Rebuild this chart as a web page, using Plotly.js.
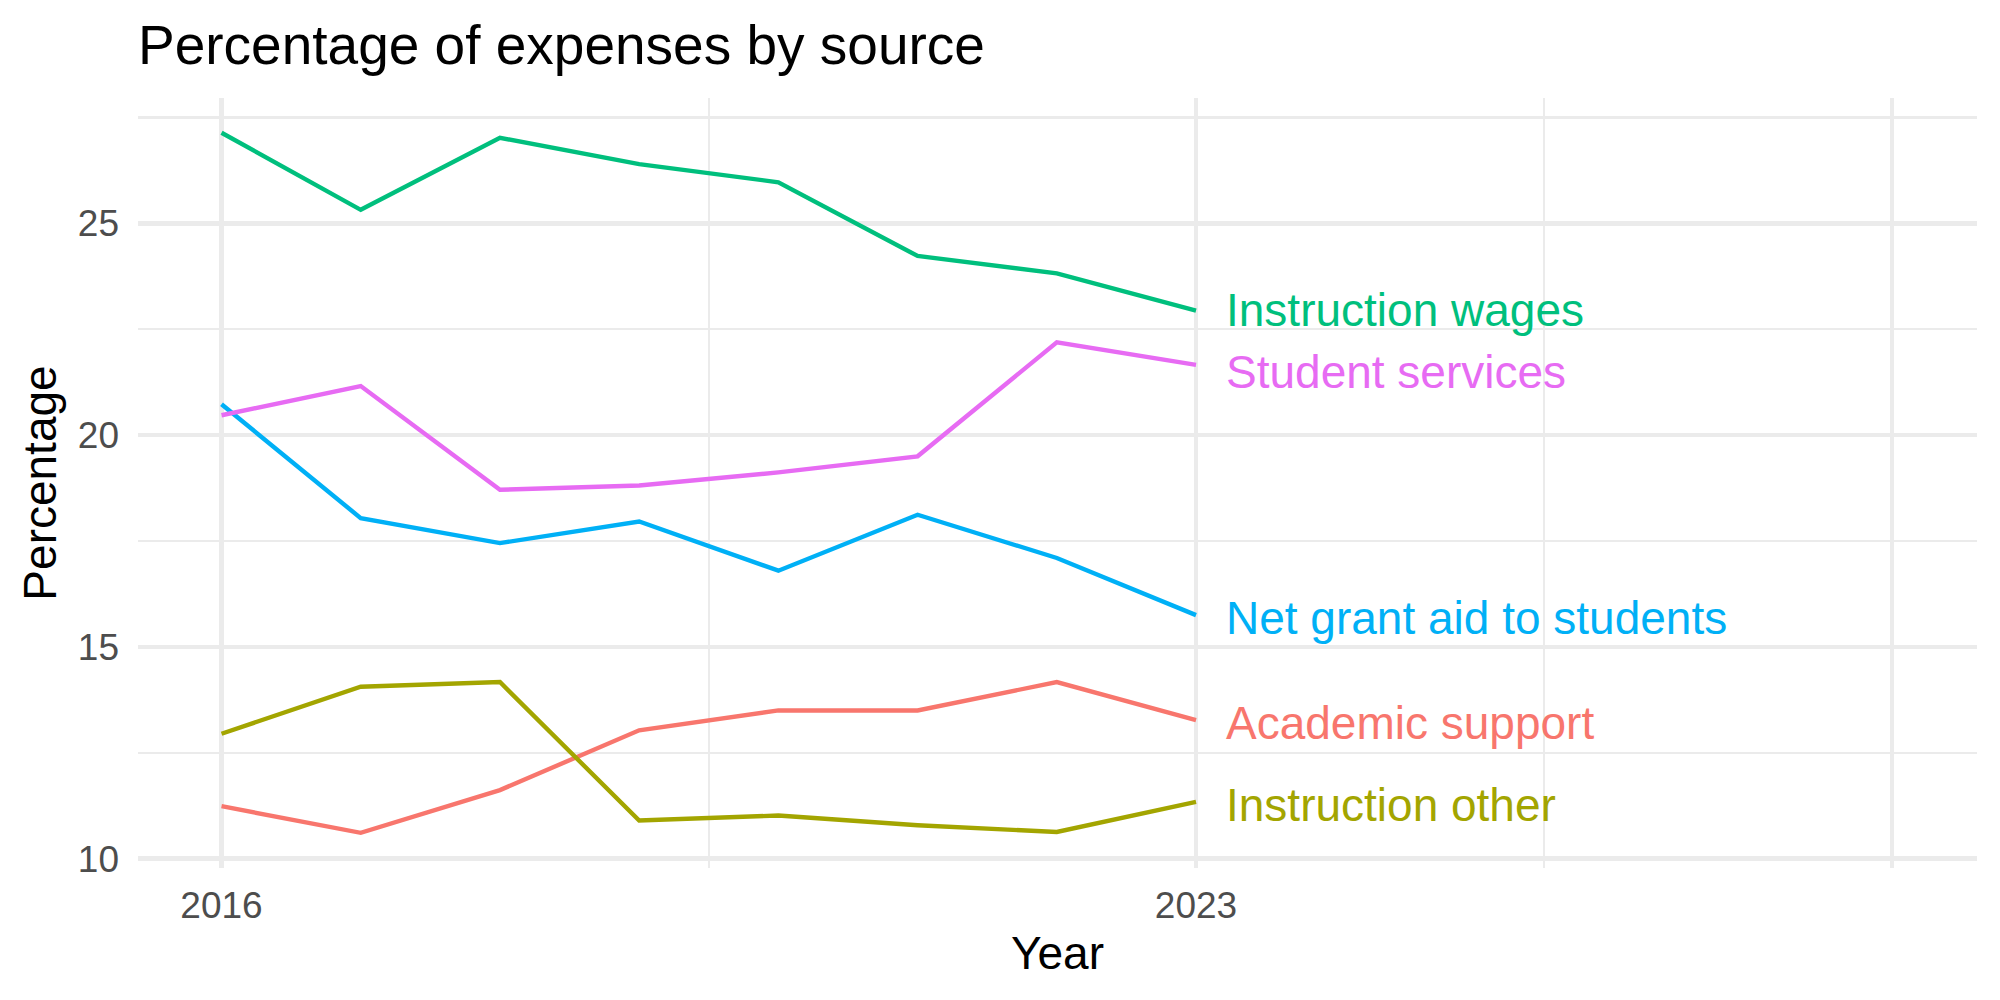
<!DOCTYPE html>
<html>
<head>
<meta charset="utf-8">
<script src="https://cdn.plot.ly/plotly-3.0.1.min.js"></script>
<style>
  html, body { margin: 0; padding: 0; background: #ffffff; }
  #chart { width: 2000px; height: 1000px; }
</style>
</head>
<body>
<div id="chart"></div>
<script>
// Expense shares by source, 2016-2023 (percent)
const years = [2016, 2017, 2018, 2019, 2020, 2021, 2022, 2023];

const seriesNames = [
  "Academic support",
  "Instruction other",
  "Instruction wages",
  "Net grant aid to students",
  "Student services"
];

const academicSupport   = [11.24, 10.61, 11.62, 13.03, 13.50, 13.50, 14.17, 13.27];
const instructionOther  = [12.95, 14.06, 14.17, 10.90, 11.02, 10.79, 10.63, 11.34];
const instructionWages  = [27.14, 25.32, 27.02, 26.40, 25.97, 24.23, 23.82, 22.94];
const netGrantAid       = [20.73, 18.04, 17.45, 17.96, 16.80, 18.12, 17.10, 15.75];
const studentServices   = [20.47, 21.16, 18.71, 18.81, 19.12, 19.50, 22.19, 21.66];

const seriesValues = [academicSupport, instructionOther, instructionWages, netGrantAid, studentServices];

// ggplot2 default hue palette for five groups
const seriesColors = ["#F8766D", "#A3A500", "#00BF7D", "#00B0F6", "#E76BF3"];

// Axis breaks
const xTickVals = [2016, 2023, 2028];
const xTickText = ["2016", "2023", ""];
const xMinorVals = [2019.5, 2025.5];
const yTickVals = [10, 15, 20, 25];
const yMinorVals = [12.5, 17.5, 22.5, 27.5];

const FONT = "Liberation Sans, Arial, Helvetica, sans-serif";
const GRID = "#EBEBEB";

const traces = seriesNames.map((name, i) => ({
  type: "scatter",
  mode: "lines",
  name: name,
  x: years,
  y: seriesValues[i],
  line: { color: seriesColors[i], width: 4.4 },
  hoverinfo: "x+y+name"
}));

// Direct labels at the end of each line; small pixel nudges keep the
// two close upper labels from crowding each other
const labelNudge = {
  "Instruction wages": 1,
  "Student services": -7
};
const lastIdx = years.length - 1;
const endLabels = seriesNames.map((name, i) => ({
  x: years[lastIdx] + 0.2,
  y: seriesValues[i][lastIdx],
  xref: "x",
  yref: "y",
  text: name,
  showarrow: false,
  xanchor: "left",
  yanchor: "middle",
  yshift: (name in labelNudge) ? labelNudge[name] : -3,
  font: { family: FONT, size: 46, color: seriesColors[i] }
}));

const layout = {
  width: 2000,
  height: 1000,
  paper_bgcolor: "#ffffff",
  plot_bgcolor: "#ffffff",
  showlegend: false,
  margin: { l: 138, r: 23, t: 98, b: 132, pad: 0 },
  font: { family: FONT, color: "#000000" },
  title: {
    text: "Percentage of expenses by source",
    font: { family: FONT, size: 55, color: "#000000" },
    xref: "paper",
    x: 0,
    xanchor: "left",
    yref: "container",
    y: 0.955,
    yanchor: "middle",
    pad: { l: 0, t: 0, b: 0, r: 0 }
  },
  xaxis: {
    range: [2015.40, 2028.61],
    tickmode: "array",
    tickvals: xTickVals,
    ticktext: xTickText,
    ticks: "",
    ticklabelstandoff: 12,
    tickfont: { family: FONT, size: 37, color: "#4D4D4D" },
    showgrid: true,
    gridcolor: GRID,
    gridwidth: 4.4,
    minor: { tickmode: "array", tickvals: xMinorVals, showgrid: true, gridcolor: GRID, gridwidth: 2.2, ticks: "" },
    zeroline: false,
    showline: false,
    automargin: false,
    title: { text: "Year", font: { family: FONT, size: 46, color: "#000000" }, standoff: 11 }
  },
  yaxis: {
    range: [9.78, 27.96],
    tickmode: "array",
    tickvals: yTickVals,
    ticktext: yTickVals.map(String),
    ticks: "",
    ticklabelstandoff: 18,
    tickfont: { family: FONT, size: 37, color: "#4D4D4D" },
    showgrid: true,
    gridcolor: GRID,
    gridwidth: 4.4,
    minor: { tickmode: "array", tickvals: yMinorVals, showgrid: true, gridcolor: GRID, gridwidth: 2.2, ticks: "" },
    zeroline: false,
    showline: false,
    automargin: false,
    title: { text: "Percentage", font: { family: FONT, size: 46, color: "#000000" }, standoff: 6 }
  },
  annotations: endLabels
};

Plotly.newPlot("chart", traces, layout, { staticPlot: true, displayModeBar: false });
</script>
</body>
</html>
